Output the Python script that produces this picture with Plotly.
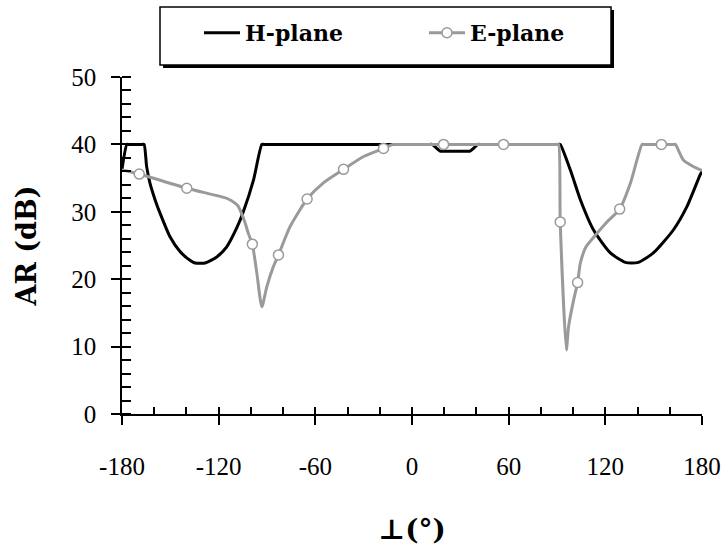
import plotly.graph_objects as go

# ---- data ----
h_x = [-180, -177, -176, -167.5, -166.3, -164.7, -162.6, -159.5, -156.4, -150.2, -144, -137.8, -134.7,
       -128.4, -121.2, -115, -108.8, -104.7, -98.4, -93.2, -92, 11.2, 12.4, 17.5, 18.5, 35, 36, 41,
       42, 91, 92, 98.3, 104.5, 112.7, 123.1, 132.4, 140.5, 149.8, 162.2, 170.7, 178.9, 180]
h_y = [36.3, 40, 40, 40, 40, 36.7, 34.2, 31.8, 29.8, 26.3, 24.1, 22.8, 22.4,
       22.4, 23.3, 24.8, 27.6, 30.0, 34.7, 40, 40, 40, 40, 39, 39, 39, 39, 40,
       40, 40, 40, 36.2, 31.8, 27.3, 23.9, 22.5, 22.5, 23.9, 27.3, 30.8, 35.5, 36]

e_x = [-180, -169.3, -139.8, -115, -112.5, -108.1, -105.7, -103.5, -101.6, -99.1, -96.3, -93.2, -90.1,
       -86, -82.9, -75.7, -65.1, -55, -42.5, -30, -17.7, -12, -11, 19.6, 56.8, 90, 91, 92.0, 95.8,
       97.2, 100.3, 102.8, 104.5, 108, 114.8, 121, 128.9, 135.5, 142.8, 144, 154.8, 162.5, 163.5,
       168.4, 174, 180]
e_y = [36.2, 35.6, 33.5, 32.0, 31.7, 30.9, 29.7, 28.3, 26.8, 25.2, 20.9, 15.9, 18.9,
       21.9, 23.6, 27.8, 31.9, 34.3, 36.3, 38.2, 39.4, 40, 40, 40, 40, 40, 40, 28.5, 9.5,
       13.0, 16.9, 19.5, 22.4, 24.8, 26.8, 28.5, 30.4, 34.2, 40, 40, 40, 40, 40,
       37.7, 36.8, 36.1]

e_mark_x = [-169.3, -139.8, -99.1, -82.9, -65.1, -42.5, -17.7, 19.6, 56.8, 92.0, 102.8, 128.9, 154.8]
e_mark_y = [35.6, 33.5, 25.2, 23.6, 31.9, 36.3, 39.4, 40, 40, 28.5, 19.5, 30.4, 40]

x_ticks = [-180, -120, -60, 0, 60, 120, 180]
x_minor = [-160, -140, -100, -80, -40, -20, 20, 40, 80, 100, 140, 160]
y_ticks = [0, 10, 20, 30, 40, 50]

GRAY = "#9a9a9a"
FONT = "Liberation Serif"
BOLD = "DejaVu Serif"

W, H = 725, 546
L, R, T, B = 122, 23, 77, 132
pw, ph = W - L - R, H - T - B

def px2paper(px, py):
    return (px - L) / pw, (H - B - py) / ph

fig = go.Figure()
fig.add_trace(go.Scatter(x=h_x, y=h_y, mode="lines", name="H-plane", legend="legend",
                         line=dict(color="black", width=3, shape="spline", smoothing=0.6)))
fig.add_trace(go.Scatter(x=[None], y=[None], mode="lines+markers", name="E-plane", legend="legend2",
                         line=dict(color=GRAY, width=3),
                         marker=dict(size=10, color="white", line=dict(color=GRAY, width=1.5))))
fig.add_trace(go.Scatter(x=e_x, y=e_y, mode="lines", showlegend=False,
                         line=dict(color=GRAY, width=3, shape="spline", smoothing=0.6)))
fig.add_trace(go.Scatter(x=e_mark_x, y=e_mark_y, mode="markers", showlegend=False,
                         marker=dict(size=10, color="white", line=dict(color=GRAY, width=1.5))))
fig.add_trace(go.Scatter(x=[None], y=[None], xaxis="x2", yaxis="y2", showlegend=False,
                         hoverinfo="skip"))

sx0, sy0 = px2paper(163, 68)
sx1, sy1 = px2paper(614, 10)
bx0, by0 = px2paper(160, 65)
bx1, by1 = px2paper(611, 7)
shapes = [
    dict(type="rect", xref="paper", yref="paper", x0=sx0, y0=sy0, x1=sx1, y1=sy1,
         fillcolor="black", line=dict(width=0)),
    dict(type="rect", xref="paper", yref="paper", x0=bx0, y0=by0, x1=bx1, y1=by1,
         fillcolor="white", line=dict(color="black", width=1.5)),
]

l1x, l1y = px2paper(199, 33)
l2x, l2y = px2paper(424, 33)
leg_common = dict(orientation="h", xanchor="left", yanchor="middle",
                  bgcolor="rgba(0,0,0,0)", borderwidth=0, itemwidth=36,
                  font=dict(family=BOLD, size=22, color="black", weight="bold"))

fig.update_layout(
    width=W, height=H,
    margin=dict(l=L, r=R, t=T, b=B, pad=0, autoexpand=False),
    paper_bgcolor="white", plot_bgcolor="white",
    font=dict(family=FONT, color="black", size=25),
    showlegend=True,
    legend=dict(x=l1x, y=l1y, **leg_common),
    legend2=dict(x=l2x, y=l2y, **leg_common),
    shapes=shapes,
    xaxis=dict(range=[-180, 180], tickmode="array", tickvals=x_ticks,
               ticktext=[str(v) for v in x_ticks], automargin=False,
               showgrid=False, zeroline=False, showline=True, linecolor="black", linewidth=1.5,
               ticks="outside", ticklen=9, tickwidth=1.5, tickcolor="black",
               ticklabelstandoff=20,
               tickfont=dict(family=FONT, size=25),
               minor=dict(ticks="inside", ticklen=7, tickwidth=1.5, tickcolor="black",
                          tickvals=x_minor, showgrid=False),
               title=dict(text="⊥(°)", font=dict(family=BOLD, size=28, weight="bold"), standoff=54)),
    yaxis=dict(range=[0, 50], tickmode="array", tickvals=y_ticks, automargin=False,
               showgrid=False, zeroline=False, showline=True, linecolor="black", linewidth=1.5,
               ticks="outside", ticklen=9, tickwidth=1.5, tickcolor="black",
               ticklabelstandoff=10,
               tickfont=dict(family=FONT, size=25),
               minor=dict(ticks="inside", ticklen=9, tickwidth=1.5, tickcolor="black",
                          dtick=2, tick0=0, showgrid=False),
               title=dict(text="AR (dB)", font=dict(family=BOLD, size=27, weight="bold"), standoff=27)),
    xaxis2=dict(range=[-180, 180], overlaying="x", anchor="y2", side="bottom",
                tickmode="array", tickvals=x_ticks, showticklabels=False, automargin=False,
                ticks="inside", ticklen=7, tickwidth=1.5, tickcolor="black",
                showgrid=False, zeroline=False, showline=False),
    yaxis2=dict(range=[0, 50], overlaying="y", anchor="x2", side="left",
                tickmode="array", tickvals=y_ticks, showticklabels=False, automargin=False,
                ticks="inside", ticklen=9, tickwidth=1.5, tickcolor="black",
                showgrid=False, zeroline=False, showline=False),
)

fig.write_html("out.html")
